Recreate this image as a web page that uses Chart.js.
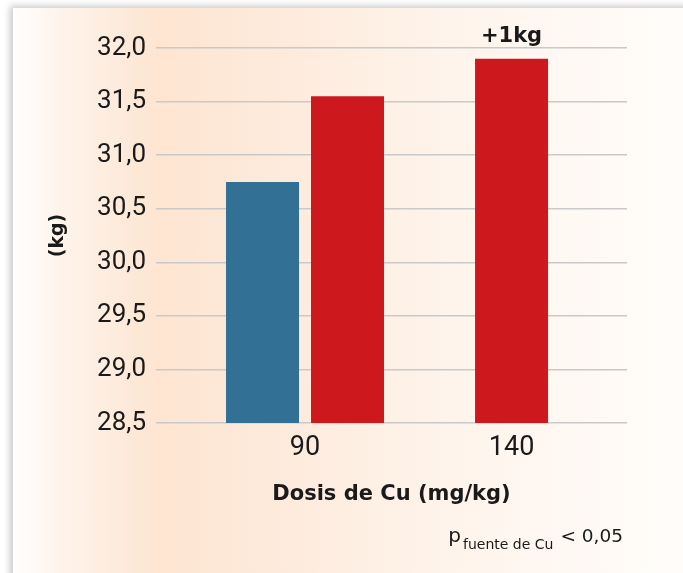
<!DOCTYPE html>
<html>
<head>
<meta charset="utf-8">
<script src="https://cdn.jsdelivr.net/npm/chart.js@4.4.1/dist/chart.umd.min.js"></script>
<style>
  html, body { margin: 0; padding: 0; background: #ffffff; overflow: hidden; width: 683px; height: 573px; }
  .card {
    position: absolute; left: 13px; top: 8px; width: 690px; height: 580px;
    background: linear-gradient(to right, #ffffff 0px, #fef4ec 45px, #fde5d1 145px, #fdeadb 260px, #fef3ea 420px, #fffaf6 600px, #fffdfb 680px);
    box-shadow: -3px -2px 7px rgba(0, 0, 0, 0.22);
  }
  canvas { position: absolute; left: 0; top: 0; }
</style>
</head>
<body>
<div class="card"></div>
<canvas id="chart" width="683" height="573"></canvas>
<script>
// Copper dose groups (mg/kg) and body weight per copper source (kg)
const categories = ['90', '140'];
const categoryPositions = [1, 2];
const sourceA = [30.75, null];
const sourceB = [31.55, 31.90];
const yTickValues = [28.5, 29.0, 29.5, 30.0, 30.5, 31.0, 31.5, 32.0];
const barLabels = ['', '+1kg'];

const FONT = "Roboto, 'Open Sans', sans-serif";
const BOLD_FONT = "'DejaVu Sans', Verdana, sans-serif";
const TEXT = '#1a1a1a';

const toPoints = (values) => values.map((v, i) => ({ x: categoryPositions[i], y: v }));

// Text above a bar (difference label)
const barLabelPlugin = {
  id: 'barLabel',
  afterDatasetsDraw(chart) {
    const ctx = chart.ctx;
    const meta = chart.getDatasetMeta(1);
    ctx.save();
    ctx.font = "bold 21px " + BOLD_FONT;
    ctx.fillStyle = TEXT;
    ctx.textAlign = 'center';
    ctx.textBaseline = 'alphabetic';
    meta.data.forEach((el, i) => {
      if (!barLabels[i]) return;
      ctx.fillText(barLabels[i], el.x, el.y - 17);
    });
    ctx.restore();
  }
};

// Significance note with subscript, bottom right
const noteText = { main: 'p', sub: 'fuente de Cu', tail: '< 0,05' };
const notePlugin = {
  id: 'note',
  afterDraw(chart) {
    const ctx = chart.ctx;
    const right = 623;
    const baseline = 542;
    const mainFont = "18.5px " + BOLD_FONT;
    const subFont = "14px " + BOLD_FONT;
    ctx.save();
    ctx.fillStyle = TEXT;
    ctx.textBaseline = 'alphabetic';
    ctx.textAlign = 'left';
    ctx.font = mainFont;
    const wTail = ctx.measureText(noteText.tail).width;
    ctx.font = "20px " + BOLD_FONT;
    const wMain = ctx.measureText(noteText.main).width;
    ctx.font = subFont;
    const wSub = ctx.measureText(noteText.sub).width;
    const xTail = right - wTail;
    const xSub = xTail - 7 - wSub;
    const xMain = xSub - 2 - wMain;
    ctx.fillText(noteText.sub, xSub, baseline + 7);
    ctx.font = mainFont;
    ctx.fillText(noteText.tail, xTail, baseline);
    ctx.font = "20px " + BOLD_FONT;
    ctx.fillText(noteText.main, xMain, baseline);
    ctx.restore();
  }
};

new Chart(document.getElementById('chart'), {
  type: 'bar',
  data: {
    datasets: [
      { label: 'Fuente de Cu A', data: toPoints(sourceA), backgroundColor: '#337096' },
      { label: 'Fuente de Cu B', data: toPoints(sourceB), backgroundColor: '#cd181d' }
    ]
  },
  options: {
    responsive: false,
    animation: false,
    events: [],
    skipNull: true,
    categoryPercentage: 0.8232,
    barPercentage: 1,
    maxBarThickness: 73,
    layout: { padding: { left: 0, right: 56, top: 48, bottom: 0 } },
    plugins: {
      legend: { display: false },
      tooltip: { enabled: false }
    },
    scales: {
      x: {
        type: 'linear',
        min: 0.2785,
        max: 2.559,
        offset: false,
        grid: { display: false, drawTicks: false },
        border: { display: false },
        afterBuildTicks(scale) { scale.ticks = categoryPositions.map(v => ({ value: v })); },
        afterFit(scale) { scale.height = 150; },
        ticks: {
          autoSkip: false,
          padding: 9,
          color: TEXT,
          font: { family: FONT, size: 27 },
          callback: (value, index) => categories[index]
        },
        title: {
          display: true,
          text: 'Dosis de Cu (mg/kg)',
          color: TEXT,
          font: { family: BOLD_FONT, size: 21, weight: 'bold' },
          padding: { top: 0, bottom: 66 }
        }
      },
      y: {
        min: 28.5,
        max: 32.0,
        grid: { color: '#c9c9c9', lineWidth: 1.5, drawTicks: false },
        border: { display: false },
        afterBuildTicks(scale) { scale.ticks = yTickValues.map(v => ({ value: v })); },
        afterFit(scale) { scale.width = 156; },
        ticks: {
          padding: 10,
          color: TEXT,
          font: { family: FONT, size: 26 },
          callback: (value) => value.toFixed(1).replace('.', ',')
        },
        title: {
          display: true,
          text: '(kg)',
          color: TEXT,
          font: { family: BOLD_FONT, size: 19, weight: 'bold' },
          padding: { top: 47, bottom: 0 }
        }
      }
    }
  },
  plugins: [barLabelPlugin, notePlugin]
});
</script>
</body>
</html>
